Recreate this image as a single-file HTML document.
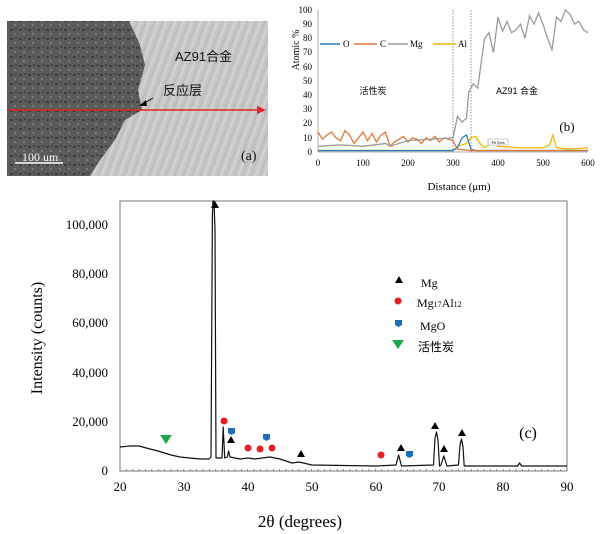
<!DOCTYPE html>
<html><head><meta charset="utf-8"><style>
body{margin:0;background:#fff;}
svg{display:block;}
text{font-family:"Liberation Serif","Noto Serif CJK SC",serif;}
.cj{font-family:"Liberation Sans","Noto Sans CJK SC",sans-serif;}
</style></head><body>
<svg width="600" height="534" viewBox="0 0 600 534">
<defs>
<pattern id="streak" width="8" height="8" patternUnits="userSpaceOnUse" patternTransform="rotate(20)">
<rect width="8" height="8" fill="#c6c6c6"/><line x1="0" y1="0" x2="0" y2="8" stroke="#a8a8a8" stroke-width="1"/><line x1="4" y1="0" x2="4" y2="8" stroke="#dadada" stroke-width="1"/>
</pattern>
<pattern id="speck" width="9" height="9" patternUnits="userSpaceOnUse">
<rect width="9" height="9" fill="#5c5c5c"/><rect x="1" y="2" width="3" height="2" fill="#3e3e3e"/><rect x="5" y="6" width="2" height="2" fill="#7a7a7a"/><rect x="6" y="1" width="2" height="2" fill="#474747"/>
</pattern>
</defs>
<rect x="7" y="21" width="261" height="155" fill="url(#streak)"/>
<polygon points="7,21 129,21 140,45 145,65 138,90 142,110 125,120 115,140 100,160 90,176 7,176" fill="url(#speck)"/>
<line x1="7" y1="110" x2="258" y2="110" stroke="#e52222" stroke-width="1.5"/>
<polygon points="266,110 257,106 257,114" fill="#e52222"/>
<line x1="153" y1="98" x2="143" y2="104" stroke="#000" stroke-width="1"/>
<polygon points="139,106 146,100 147,106" fill="#000"/>
<text class="cj" x="175" y="61" font-size="13" fill="#111">AZ91合金</text>
<text class="cj" x="163" y="95" font-size="13" fill="#111">反应层</text>
<line x1="15" y1="163" x2="63" y2="163" stroke="#fff" stroke-width="1.5"/>
<text x="22" y="161" font-size="12" fill="#fff">100 um</text>
<text x="241" y="160" font-size="14" fill="#111">(a)</text>

<g font-size="9" text-anchor="end">
<text x="312" y="13">100</text><text x="312" y="27">90</text><text x="312" y="41">80</text><text x="312" y="55">70</text><text x="312" y="70">60</text><text x="312" y="84">50</text><text x="312" y="98">40</text><text x="312" y="112">30</text><text x="312" y="126">20</text><text x="312" y="141">10</text><text x="312" y="155">0</text>
</g>
<g font-size="9" text-anchor="middle">
<text x="318" y="166">0</text><text x="363" y="166">100</text><text x="408" y="166">200</text><text x="453" y="166">300</text><text x="498" y="166">400</text><text x="543" y="166">500</text><text x="588" y="166">600</text>
</g>
<text x="299" y="50" font-size="10" transform="rotate(-90 299 50)" text-anchor="middle">Atomic %</text>
<text x="459" y="190" font-size="11" text-anchor="middle">Distance (μm)</text>
<line x1="318" y1="10" x2="318" y2="152" stroke="#999" stroke-width="0.8"/>
<line x1="318" y1="152" x2="588" y2="152" stroke="#999" stroke-width="0.8"/>
<line x1="453" y1="10" x2="453" y2="152" stroke="#777" stroke-dasharray="1.5,1.5" stroke-width="0.8"/>
<line x1="471" y1="10" x2="471" y2="152" stroke="#777" stroke-dasharray="1.5,1.5" stroke-width="0.8"/>
<g transform="translate(318,152) scale(0.45,-1.42)" fill="none" stroke-width="1.3">
<polyline vector-effect="non-scaling-stroke" stroke="#f0b800" points="0,1 300,1 310,4 330,6 340,10 350,11 360,6 370,3 380,5 395,9 400,4 450,3 500,3 515,5 522,12 530,3 560,2 600,3"/>
<polyline vector-effect="non-scaling-stroke" stroke="#2a7bc0" points="0,1 300,1 310,3 320,10 330,12 340,2 350,1 600,1"/>
<polyline vector-effect="non-scaling-stroke" stroke="#e07838" points="0,14 10,9 20,12 30,14 40,10 50,8 60,15 70,12 80,6 90,10 100,14 110,8 120,13 130,7 140,12 150,14 160,4 170,7 180,9 190,11 200,7 210,10 220,9 230,6 240,10 250,8 260,11 270,7 280,10 290,9 300,8 310,2 340,1 600,1"/>
<polyline vector-effect="non-scaling-stroke" stroke="#9a9a9a" points="0,4 50,5 100,4 150,6 160,4 200,8 250,9 300,10 310,25 320,21 330,24 335,42 345,48 355,45 370,80 380,84 390,70 400,95 410,85 420,92 430,84 440,86 450,90 460,80 470,96 480,90 490,98 500,90 510,80 520,72 530,95 540,92 550,100 560,97 570,90 580,92 590,86 600,84"/>
</g>
<g font-size="9">
<line x1="320" y1="44" x2="340" y2="44" stroke="#2a7bc0" stroke-width="1.5"/><text x="343" y="47">O</text>
<line x1="354" y1="44" x2="377" y2="44" stroke="#e07838" stroke-width="1.5"/><text x="380" y="47">C</text>
<line x1="388" y1="44" x2="408" y2="44" stroke="#9a9a9a" stroke-width="1.5"/><text x="410" y="47">Mg</text>
<line x1="433" y1="44" x2="456" y2="44" stroke="#f0b800" stroke-width="1.5"/><text x="458" y="47">Al</text>
</g>
<text class="cj" x="373" y="94" font-size="9" text-anchor="middle">活性炭</text>
<text class="cj" x="517" y="94" font-size="9" text-anchor="middle">AZ91 合金</text>
<text x="567" y="131" font-size="13" text-anchor="middle">(b)</text>
<rect x="488" y="139" width="20" height="6" fill="#fff" stroke="#999" stroke-width="0.5"/>
<text x="498" y="144" font-size="4" text-anchor="middle">Pit Area</text>

<rect x="120" y="201" width="447" height="270" fill="none" stroke="#777" stroke-width="1"/>
<g stroke="#555" stroke-width="0.6">
<path d="M126.4 471v-2M132.8 471v-2M139.2 471v-2M145.5 471v-2M151.9 471v-2M158.3 471v-2M164.7 471v-2M171.1 471v-2M177.5 471v-2M183.9 471v-2M190.2 471v-2M196.6 471v-2M203 471v-2M209.4 471v-2M215.8 471v-2M222.2 471v-2M228.6 471v-2M234.9 471v-2M241.3 471v-2M247.7 471v-2M254.1 471v-2M260.5 471v-2M266.9 471v-2M273.3 471v-2M279.6 471v-2M286 471v-2M292.4 471v-2M298.8 471v-2M305.2 471v-2M311.6 471v-2M318 471v-2M324.3 471v-2M330.7 471v-2M337.1 471v-2M343.5 471v-2M349.9 471v-2M356.3 471v-2M362.7 471v-2M369 471v-2M375.4 471v-2M381.8 471v-2M388.2 471v-2M394.6 471v-2M401 471v-2M407.4 471v-2M413.7 471v-2M420.1 471v-2M426.5 471v-2M432.9 471v-2M439.3 471v-2M445.7 471v-2M452.1 471v-2M458.4 471v-2M464.8 471v-2M471.2 471v-2M477.6 471v-2M484 471v-2M490.4 471v-2M496.8 471v-2M503.1 471v-2M509.5 471v-2M515.9 471v-2M522.3 471v-2M528.7 471v-2M535.1 471v-2M541.5 471v-2M547.8 471v-2M554.2 471v-2M560.6 471v-2"/>
</g>
<g font-size="13" text-anchor="end">
<text x="108" y="229">100,000</text><text x="108" y="278">80,000</text><text x="108" y="327">60,000</text><text x="108" y="377">40,000</text><text x="108" y="426">20,000</text><text x="108" y="475">0</text>
</g>
<g font-size="13" text-anchor="middle">
<text x="120" y="491">20</text><text x="184" y="491">30</text><text x="248" y="491">40</text><text x="312" y="491">50</text><text x="376" y="491">60</text><text x="439" y="491">70</text><text x="503" y="491">80</text><text x="567" y="491">90</text>
</g>
<text x="42" y="338" font-size="16" text-anchor="middle" transform="rotate(-90 42 338)">Intensity (counts)</text>
<text x="300" y="527" font-size="17" text-anchor="middle">2θ (degrees)</text>
<text x="528" y="438" font-size="16" text-anchor="middle">(c)</text>
<polyline fill="none" stroke="#111" stroke-width="1.2" stroke-linejoin="round" points="120,447 130,446 139,446 150,449 158,451 171,455 180,457 190,458 200,459 209,459 211,457 212.4,215 213,201 214,201 215,230 216,458 219,458 222,458 223.2,427 224.7,458 227.3,457 228.6,451 230,457 240,459 248,458 255,459 262,458 270,457 280,459 292,463 299,462 312,465 376,466 396,465 398.6,455 401.5,466 433.5,465 435,438 436.5,432 438,440 439.5,466 441,465 443.8,456 447,466 458.5,465 460,445 461.5,439 463,447 464.2,466 517.6,466 519.6,463 521.6,466 567,466"/>
<g fill="#000">
<polygon points="215,201 219,208 211,208"/>
<polygon points="231,436 235,443 227,443"/>
<polygon points="301,450 305,457 297,457"/>
<polygon points="401,444 405,451 397,451"/>
<polygon points="435,422 439,429 431,429"/>
<polygon points="444,445 448,452 440,452"/>
<polygon points="462,429 466,436 458,436"/>
<polygon points="399,276 403,283 395,283"/>
</g>
<g fill="#e62020">
<circle cx="224" cy="421" r="3.5"/><circle cx="248" cy="448" r="3.5"/><circle cx="260" cy="449" r="3.5"/><circle cx="272" cy="448" r="3.5"/><circle cx="381" cy="455" r="3.5"/><circle cx="398" cy="301" r="3.5"/>
</g>
<g fill="#1f6fb8">
<path d="M228 428h7v5l-3.5 2l-3.5-2z"/><path d="M263 434h7v5l-3.5 2l-3.5-2z"/><path d="M406 451h7v5l-3.5 2l-3.5-2z"/><path d="M395 320h7v5l-3.5 2l-3.5-2z"/>
</g>
<polygon points="160,435 172,435 166,444" fill="#1fa64a"/>
<polygon points="392,340 404,340 398,349" fill="#1fa64a"/>
<g font-size="12">
<text x="421" y="287">Mg</text>
<text x="417" y="307">Mg<tspan font-size="8">17</tspan>Al<tspan font-size="8">12</tspan></text>
<text x="420" y="330">MgO</text>
<text class="cj" x="418" y="351">活性炭</text>
</g>
</svg>
</body></html>
